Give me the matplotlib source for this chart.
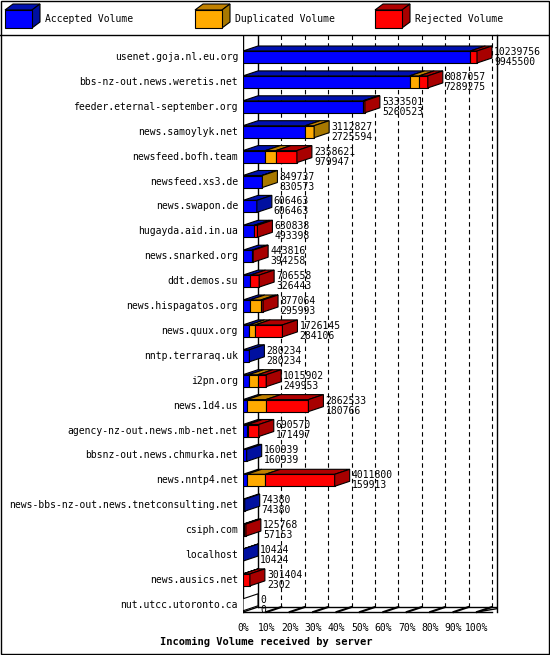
import matplotlib
matplotlib.use("Agg")
import matplotlib.pyplot as plt
from matplotlib.patches import Polygon, Rectangle
from matplotlib.lines import Line2D

servers = ["usenet.goja.nl.eu.org", "bbs-nz-out.news.weretis.net", "feeder.eternal-september.org",
           "news.samoylyk.net", "newsfeed.bofh.team", "newsfeed.xs3.de", "news.swapon.de",
           "hugayda.aid.in.ua", "news.snarked.org", "ddt.demos.su", "news.hispagatos.org",
           "news.quux.org", "nntp.terraraq.uk", "i2pn.org", "news.1d4.us",
           "agency-nz-out.news.mb-net.net", "bbsnz-out.news.chmurka.net", "news.nntp4.net",
           "news-bbs-nz-out.news.tnetconsulting.net", "csiph.com", "localhost",
           "news.ausics.net", "nut.utcc.utoronto.ca"]
total = [10239756, 8087057, 5333501, 3112827, 2358621, 849737, 606463, 630838, 443816,
         706558, 877064, 1726145, 280234, 1015902, 2862533, 690570, 160939, 4011800,
         74380, 125768, 10424, 301404, 0]
accepted = [9945500, 7289275, 5260523, 2725594, 979947, 830573, 606463, 493398, 394258,
            326443, 295993, 284106, 280234, 249953, 180766, 171497, 160939, 159913,
            74380, 57153, 10424, 2302, 0]
duplicated = [0, 420000, 0, 387233, 460000, 19164, 0, 0, 0, 0, 480000, 250000, 0, 400000,
              820000, 30000, 0, 820000, 0, 0, 0, 0, 0]
rejected = [t - a - d for t, a, d in zip(total, accepted, duplicated)]
pct_ticks = ["0%", "10%", "20%", "30%", "40%", "50%", "60%", "70%", "80%", "90%", "100%"]
series_names = ["Accepted Volume", "Duplicated Volume", "Rejected Volume"]

front = ["#0000ff", "#ffaa00", "#ff0000"]
topc = ["#0010b0", "#c08000", "#b00000"]
sidec = ["#0010a0", "#a87800", "#a80000"]

W, H = 550, 655
fig = plt.figure(figsize=(W / 100, H / 100), dpi=100)
MONO = "DejaVu Sans Mono"
FS = 7

L, R, T, B = 243, 497, 35, 625
ax = fig.add_axes([L / W, 1 - B / H, (R - L) / W, (B - T) / H])
vmax = max(total)
xr = vmax * (R - L) / 234.0
ax.set_xlim(0, xr)
rowpx = 24.9
ytop = (T - 57) / rowpx
ybot = (B - 57) / rowpx
ax.set_ylim(ybot, ytop)
ax.axis("off")
pxx = xr / (R - L)
pxy = 1 / rowpx
DX, DY = 15 * pxx, 5 * pxy
hh = 6 * pxy

# grid / walls
floor_y = (612 - 57) / rowpx
for k in range(1, 11):
    x = k * vmax / 10
    ax.add_line(Line2D([x + DX, x + DX], [ytop, floor_y - DY], color="black", lw=0.8,
                       ls=(0, (4, 3)), zorder=1))
    ax.add_line(Line2D([x, x + DX], [floor_y, floor_y - DY], color="black", lw=1.5, zorder=1))
for k, lab in enumerate(pct_ticks):
    ax.text(k * vmax / 10, floor_y + 16 * pxy, lab, ha="center", va="center",
            family=MONO, fontsize=FS)
ax.add_line(Line2D([0, 0], [ytop, floor_y], color="black", lw=1, zorder=2))
ax.add_line(Line2D([DX, DX], [ytop, floor_y - DY], color="black", lw=1, zorder=1))
ax.add_line(Line2D([0, DX], [floor_y, floor_y - DY], color="black", lw=1, zorder=1))
ax.add_line(Line2D([0, vmax + DX], [floor_y, floor_y], color="black", lw=1, zorder=1))
ax.add_line(Line2D([DX, xr], [floor_y - DY, floor_y - DY], color="black", lw=1, zorder=1))
ax.add_line(Line2D([vmax, vmax + 2 * DX], [floor_y, floor_y - DY], color="black", lw=1, zorder=1))

def box(x0, x1, y, i, side):
    ax.add_patch(Polygon([(x0, y - hh), (x0 + DX, y - hh - DY), (x1 + DX, y - hh - DY), (x1, y - hh)],
                         closed=True, fc=topc[i], ec="black", lw=0.8, zorder=3))
    ax.add_patch(Rectangle((x0, y - hh), x1 - x0, 2 * hh, fc=front[i], ec="black", lw=0.8, zorder=4))
    if side:
        ax.add_patch(Polygon([(x1, y - hh), (x1 + DX, y - hh - DY), (x1 + DX, y + hh - DY), (x1, y + hh)],
                             closed=True, fc=sidec[i], ec="black", lw=0.8, zorder=4))

for r, name in enumerate(servers):
    vals = [accepted[r], duplicated[r], rejected[r]]
    x = 0
    nz = [i for i, v in enumerate(vals) if v > 0]
    for i in nz:
        box(x, x + vals[i], r, i, i == nz[-1])
        x += vals[i]
    if not nz:
        ax.add_patch(Polygon([(0, r + hh), (DX, r + hh - DY), (DX, r - hh - DY), (0, r - hh)],
                             closed=True, fc="white", ec="black", lw=0.8, zorder=4))
    ax.text(-5 * pxx, r, name, ha="right", va="center", family=MONO, fontsize=FS, clip_on=False)
    ax.text(x + DX + 2 * pxx, r, f"{total[r]}\n{accepted[r]}", ha="left", va="center",
            family=MONO, fontsize=FS, linespacing=1.0, zorder=5, clip_on=False)

ax.text(0.1 * vmax, floor_y + 30 * pxy, "Incoming Volume received by server", ha="center",
        va="center", family=MONO, fontsize=7.5, fontweight="bold", clip_on=False)

# figure frame and legend
fa = fig.add_axes([0, 0, 1, 1], zorder=-1)
fa.set_xlim(0, W); fa.set_ylim(H, 0); fa.axis("off")
fa.add_patch(Rectangle((0.5, 0.5), W - 1.5, H - 1.5, fill=False, ec="black", lw=1))
fa.add_line(Line2D([0, W], [T, T], color="black", lw=1))
fa.add_line(Line2D([R, R], [T, 612], color="black", lw=1))
for i, (lx, name) in enumerate(zip([5, 195, 375], series_names)):
    fa.add_patch(Polygon([(lx, 10), (lx + 8, 4), (lx + 35, 4), (lx + 27, 10)], fc=topc[i], ec="black", lw=0.8))
    fa.add_patch(Polygon([(lx + 27, 10), (lx + 35, 4), (lx + 35, 22), (lx + 27, 28)], fc=sidec[i], ec="black", lw=0.8))
    fa.add_patch(Rectangle((lx, 10), 27, 18, fc=front[i], ec="black", lw=0.8))
    fa.text(lx + 40, 19, name, ha="left", va="center", family=MONO, fontsize=FS)

fig.savefig("out.png", dpi=100)
